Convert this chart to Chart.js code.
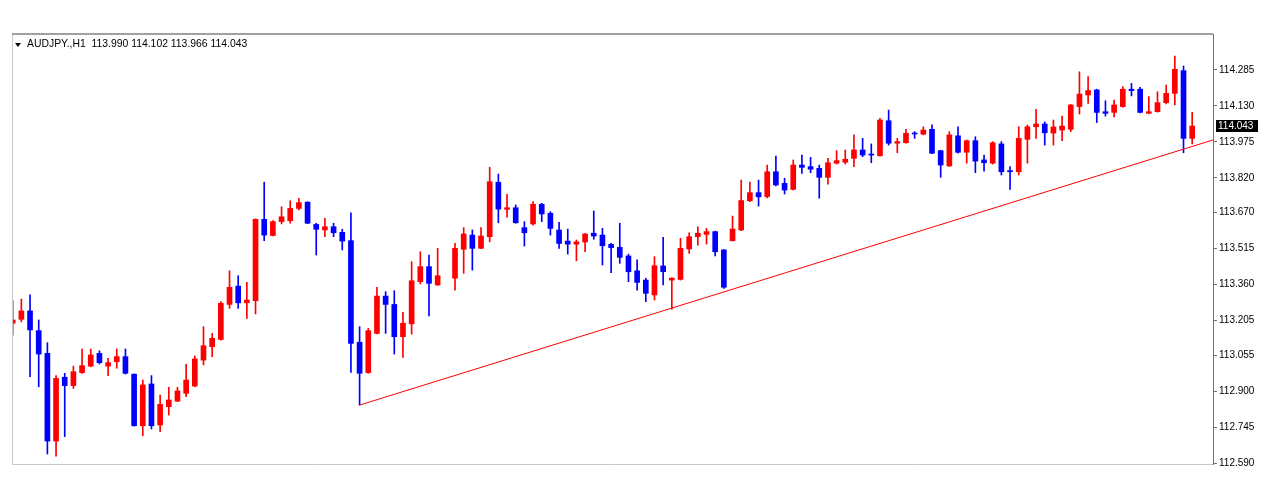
<!DOCTYPE html>
<html>
<head>
<meta charset="utf-8">
<script src="https://cdn.jsdelivr.net/npm/chart.js@4.4.1/dist/chart.umd.min.js"></script>
<style>
  html, body { margin: 0; padding: 0; background: #fff; }
  canvas { display: block; }
</style>
</head>
<body>
<canvas id="chart" width="1274" height="500"></canvas>
<script>
// AUDJPY H1 candles (index 50 is an empty slot)
const symbol = 'AUDJPY.,H1';
const opens = [
  113.193, 113.210, 113.246, 113.161, 113.063, 112.685, 112.960, 112.924, 112.980, 113.008,
  113.063, 113.008, 113.027, 113.049, 112.973, 112.751, 112.931, 112.754, 112.833, 112.857,
  112.891, 112.922, 113.034, 113.092, 113.123, 113.274, 113.353, 113.281, 113.290, 113.641,
  113.571, 113.631, 113.635, 113.688, 113.715, 113.619, 113.595, 113.609, 113.585, 113.549,
  113.111, 112.980, 113.149, 113.310, 113.274, 113.135, 113.190, 113.372, 113.437, 113.358,
  null,    113.387, 113.512, 113.573, 113.516, 113.566, 113.801, 113.684, 113.691, 113.605,
  113.621, 113.706, 113.667, 113.595, 113.547, 113.534, 113.543, 113.581, 113.573, 113.533,
  113.520, 113.483, 113.419, 113.379, 113.315, 113.440, 113.379, 113.382, 113.513, 113.566,
  113.576, 113.588, 113.509, 113.549, 113.595, 113.721, 113.756, 113.739, 113.846, 113.796,
  113.770, 113.875, 113.868, 113.861, 113.822, 113.883, 113.887, 113.904, 113.940, 113.921,
  113.915, 114.066, 113.969, 113.971, 114.013, 114.008, 114.029, 113.937, 113.871, 114.001,
  113.930, 113.980, 113.897, 113.883, 113.966, 113.851, 113.846, 113.986, 114.040, 114.052,
  114.013, 114.026, 114.029, 114.127, 114.177, 114.199, 114.105, 114.102, 114.127, 114.202,
  114.202, 114.098, 114.105, 114.144, 114.184, 114.282, 113.990
];
const highs = [
  113.290, 113.297, 113.315, 113.207, 113.109, 112.967, 112.977, 113.008, 113.082, 113.082,
  113.074, 113.042, 113.082, 113.082, 112.975, 112.948, 112.967, 112.883, 112.917, 112.917,
  113.016, 113.052, 113.178, 113.149, 113.286, 113.419, 113.398, 113.369, 113.643, 113.801,
  113.635, 113.695, 113.721, 113.732, 113.717, 113.624, 113.645, 113.624, 113.598, 113.669,
  113.178, 113.171, 113.348, 113.329, 113.333, 113.240, 113.458, 113.501, 113.487, 113.516,
  null,    113.537, 113.605, 113.595, 113.605, 113.865, 113.836, 113.749, 113.703, 113.631,
  113.717, 113.710, 113.674, 113.628, 113.599, 113.552, 113.580, 113.677, 113.602, 113.537,
  113.624, 113.491, 113.466, 113.387, 113.480, 113.563, 113.389, 113.559, 113.583, 113.609,
  113.602, 113.590, 113.511, 113.655, 113.810, 113.801, 113.810, 113.875, 113.914, 113.818,
  113.897, 113.918, 113.908, 113.875, 113.904, 113.937, 113.940, 114.005, 113.990, 113.966,
  114.076, 114.112, 113.990, 114.029, 114.019, 114.040, 114.048, 113.939, 114.019, 114.040,
  113.983, 113.997, 113.918, 113.976, 113.976, 113.868, 114.040, 114.048, 114.115, 114.061,
  114.069, 114.086, 114.136, 114.277, 114.256, 114.202, 114.152, 114.155, 114.213, 114.227,
  114.210, 114.170, 114.191, 114.220, 114.345, 114.302, 114.102
];
const lows = [
  113.142, 113.199, 112.962, 112.919, 112.629, 112.620, 112.704, 112.912, 112.977, 113.005,
  113.017, 112.967, 112.999, 112.974, 112.749, 112.708, 112.737, 112.725, 112.797, 112.855,
  112.876, 112.919, 113.013, 113.049, 113.120, 113.257, 113.257, 113.214, 113.233, 113.549,
  113.569, 113.621, 113.624, 113.681, 113.622, 113.487, 113.566, 113.566, 113.509, 112.981,
  112.840, 112.977, 113.147, 113.149, 113.060, 113.046, 113.146, 113.362, 113.224, 113.356,
  null,    113.336, 113.408, 113.422, 113.514, 113.544, 113.626, 113.650, 113.624, 113.526,
  113.616, 113.631, 113.573, 113.516, 113.491, 113.462, 113.501, 113.555, 113.444, 113.411,
  113.451, 113.372, 113.336, 113.286, 113.293, 113.358, 113.253, 113.379, 113.494, 113.530,
  113.534, 113.483, 113.343, 113.547, 113.592, 113.717, 113.698, 113.733, 113.785, 113.750,
  113.767, 113.839, 113.842, 113.732, 113.793, 113.879, 113.879, 113.868, 113.911, 113.885,
  113.913, 113.961, 113.928, 113.969, 113.990, 114.005, 113.924, 113.822, 113.869, 113.926,
  113.883, 113.842, 113.849, 113.879, 113.832, 113.770, 113.832, 113.883, 113.990, 113.961,
  113.961, 113.980, 114.019, 114.095, 114.141, 114.058, 114.086, 114.083, 114.124, 114.173,
  114.100, 114.096, 114.103, 114.138, 114.134, 113.928, 113.966
];
const closes = [
  113.207, 113.246, 113.164, 113.060, 112.685, 112.955, 112.924, 112.984, 113.010, 113.056,
  113.023, 113.023, 113.049, 112.977, 112.751, 112.927, 112.751, 112.843, 112.862, 112.901,
  112.948, 113.039, 113.096, 113.128, 113.279, 113.348, 113.281, 113.293, 113.641, 113.573,
  113.631, 113.652, 113.688, 113.713, 113.624, 113.598, 113.609, 113.583, 113.547, 113.106,
  112.977, 113.161, 113.310, 113.274, 113.135, 113.193, 113.376, 113.437, 113.365, 113.398,
  null,    113.516, 113.578, 113.516, 113.569, 113.803, 113.685, 113.691, 113.626, 113.583,
  113.706, 113.664, 113.602, 113.537, 113.534, 113.544, 113.578, 113.569, 113.527, 113.519,
  113.477, 113.415, 113.369, 113.322, 113.441, 113.415, 113.387, 113.516, 113.566, 113.581,
  113.588, 113.501, 113.348, 113.599, 113.722, 113.756, 113.738, 113.846, 113.789, 113.767,
  113.875, 113.865, 113.857, 113.822, 113.885, 113.894, 113.900, 113.940, 113.918, 113.918,
  114.069, 113.969, 113.976, 114.012, 114.009, 114.026, 113.926, 113.875, 114.005, 113.930,
  113.980, 113.892, 113.885, 113.971, 113.846, 113.846, 113.990, 114.040, 114.052, 114.014,
  114.039, 114.043, 114.134, 114.181, 114.196, 114.102, 114.098, 114.134, 114.202, 114.196,
  114.102, 114.105, 114.144, 114.184, 114.288, 113.990, 114.043
];
// price axis labels
const priceTicks = [112.590, 112.745, 112.900, 113.055, 113.205, 113.360, 113.515, 113.670, 113.820, 113.975, 114.130, 114.285];
// trend line anchors: bar index / price
const trendX = [40, 138.4];
const trendY = [112.840, 113.983];

const UP = '#ff0000';
const DOWN = '#0000ff';
const FONT = "'Liberation Sans', Arial, sans-serif";

const bodies = [], wicks = [], colors = [];
for (let i = 0; i < opens.length; i++) {
  if (opens[i] == null) continue;
  bodies.push({ x: i, y: [opens[i], closes[i]] });
  wicks.push({ x: i, y: [lows[i], highs[i]] });
  colors.push(closes[i] >= opens[i] ? UP : DOWN);
}
const last = opens.length - 1;

const mtPlugin = {
  id: 'mt',
  beforeDraw(chart) {
    const ctx = chart.ctx;
    ctx.save();
    ctx.fillStyle = '#fff';
    ctx.fillRect(0, 0, chart.width, chart.height);
    ctx.restore();
  },
  afterDraw(chart) {
    const ctx = chart.ctx;
    const a = chart.chartArea;
    ctx.save();
    // frame
    ctx.strokeStyle = '#c8c8c8';
    ctx.lineWidth = 1;
    ctx.beginPath();
    ctx.moveTo(a.right, a.bottom + 0.5);
    ctx.lineTo(a.left + 0.5, a.bottom + 0.5);
    ctx.lineTo(a.left + 0.5, a.top);
    ctx.stroke();
    ctx.strokeStyle = '#a0a0a0';
    ctx.lineWidth = 2;
    ctx.beginPath();
    ctx.moveTo(a.left, a.top);
    ctx.lineTo(a.right, a.top);
    ctx.stroke();

    // header
    ctx.fillStyle = '#000';
    ctx.beginPath();
    ctx.moveTo(15, 43);
    ctx.lineTo(21, 43);
    ctx.lineTo(18, 47);
    ctx.closePath();
    ctx.fill();
    ctx.font = '10.4px ' + FONT;
    ctx.textBaseline = 'alphabetic';
    ctx.textAlign = 'left';
    const hdr = symbol + '  ' + [opens[last], highs[last], lows[last], closes[last]].map(v => v.toFixed(3)).join(' ');
    ctx.fillText(hdr, 27, 47);

    // current price box
    const y = chart.scales.y.getPixelForValue(closes[last]);
    ctx.font = '10px ' + FONT;
    ctx.fillStyle = '#000';
    ctx.fillRect(a.right + 3, Math.round(y) - 6, 42, 12);
    ctx.fillStyle = '#fff';
    ctx.textBaseline = 'middle';
    ctx.fillText(closes[last].toFixed(3), a.right + 5, Math.round(y) + 0.5);
    ctx.restore();
  }
};

new Chart(document.getElementById('chart'), {
  data: {
    datasets: [
      {
        type: 'line',
        data: trendX.map((x, i) => ({ x: x, y: trendY[i] })),
        borderColor: '#ff0000',
        borderWidth: 1,
        pointRadius: 0,
        order: 0
      },
      {
        type: 'bar',
        data: bodies,
        backgroundColor: colors,
        borderWidth: 0,
        barThickness: 5,
        minBarLength: 1,
        grouped: false,
        order: 1
      },
      {
        type: 'bar',
        data: wicks,
        backgroundColor: colors,
        borderWidth: 0,
        barThickness: 1,
        minBarLength: 1,
        grouped: false,
        order: 2
      }
    ]
  },
  options: {
    responsive: false,
    animation: false,
    layout: { padding: { left: 12, top: 34, right: 0, bottom: 36 } },
    plugins: { legend: { display: false }, tooltip: { enabled: false } },
    scales: {
      x: { type: 'linear', min: -0.08, max: 138.4, display: false, offset: false },
      y: {
        position: 'right',
        min: 112.586,
        max: 114.440,
        afterBuildTicks: s => { s.ticks = priceTicks.map(v => ({ value: v })); },
        afterFit: s => { s.width = 61; },
        ticks: {
          autoSkip: false,
          padding: 2,
          color: '#000',
          font: { family: FONT, size: 10 },
          callback: v => Number(v).toFixed(3)
        },
        grid: { drawOnChartArea: false, drawTicks: true, tickLength: 4, color: '#707070' },
        border: { color: '#707070', width: 1 }
      }
    }
  },
  plugins: [mtPlugin]
});
</script>
</body>
</html>
